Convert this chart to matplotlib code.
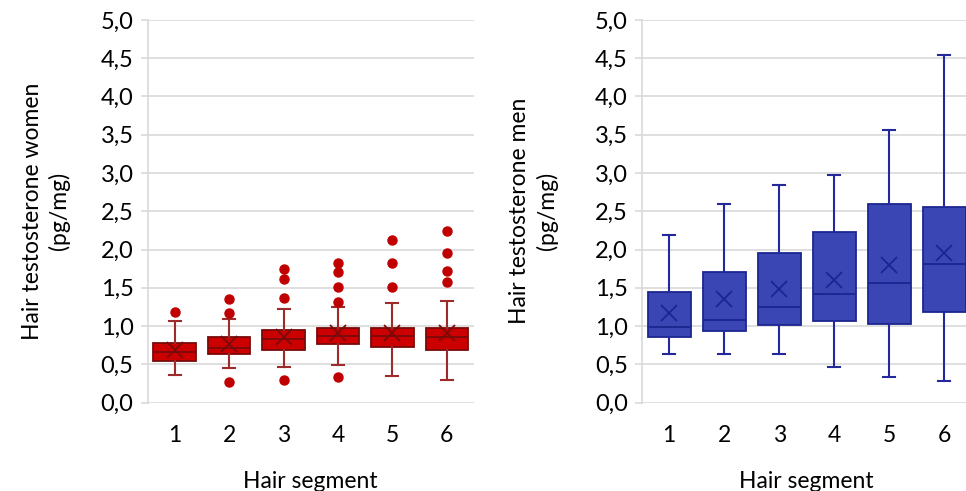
import matplotlib.pyplot as plt

plt.rcParams["font.family"] = ["Lato", "DejaVu Sans"]

segments = [1, 2, 3, 4, 5, 6]

# women (pg/mg)
w_whislo = [0.36, 0.45, 0.47, 0.49, 0.35, 0.30]
w_q1 = [0.54, 0.635, 0.69, 0.76, 0.72, 0.69]
w_med = [0.665, 0.71, 0.835, 0.875, 0.875, 0.85]
w_q3 = [0.78, 0.85, 0.95, 0.98, 0.98, 0.98]
w_whishi = [1.07, 1.09, 1.22, 1.25, 1.30, 1.33]
w_mean = [0.69, 0.765, 0.85, 0.905, 0.91, 0.91]
w_fliers = [
    [1.18],
    [1.35, 1.17, 0.27],
    [1.74, 1.61, 1.36, 0.30],
    [1.82, 1.71, 1.51, 1.32, 0.34],
    [2.12, 1.82, 1.51],
    [2.24, 1.95, 1.72, 1.57],
]

# men (pg/mg)
m_whislo = [0.63, 0.64, 0.64, 0.47, 0.34, 0.28]
m_q1 = [0.85, 0.93, 1.01, 1.06, 1.03, 1.18]
m_med = [0.99, 1.08, 1.25, 1.42, 1.56, 1.81]
m_q3 = [1.45, 1.70, 1.95, 2.23, 2.60, 2.56]
m_whishi = [2.19, 2.59, 2.84, 2.97, 3.56, 4.54]
m_mean = [1.17, 1.35, 1.48, 1.60, 1.80, 1.95]
m_fliers = [[], [], [], [], [], []]

yticks = [0.0, 0.5, 1.0, 1.5, 2.0, 2.5, 3.0, 3.5, 4.0, 4.5, 5.0]
ytick_labels = [f"{v:.1f}".replace(".", ",") for v in yticks]


def stats(lo, q1, med, q3, hi, mean, fl):
    return [
        dict(whislo=a, q1=b, med=c, q3=d, whishi=e, mean=f, fliers=g)
        for a, b, c, d, e, f, g in zip(lo, q1, med, q3, hi, mean, fl)
    ]


def draw(ax, st, fill, edge, whisk, flier, ylabel, label_x):
    ax.bxp(
        st,
        positions=segments,
        widths=0.78,
        capwidths=0.22,
        patch_artist=True,
        showmeans=True,
        boxprops=dict(facecolor=fill, edgecolor=edge, linewidth=1.3),
        medianprops=dict(color=edge, linewidth=1.3),
        whiskerprops=dict(color=whisk, linewidth=1.5),
        capprops=dict(color=whisk, linewidth=1.5),
        meanprops=dict(marker="x", markeredgecolor=edge, markersize=12, markeredgewidth=1.3),
        flierprops=dict(marker="o", markerfacecolor=flier, markeredgecolor=flier, markersize=6.5),
    )
    ax.set_xlim(0.5, 6.5)
    ax.set_ylim(0, 5.0)
    ax.set_yticks(yticks)
    ax.set_yticklabels(ytick_labels)
    ax.set_xticks(segments)
    ax.set_xticklabels([str(s) for s in segments])
    ax.tick_params(axis="y", length=5, width=1.2, color="#d9d9d9", labelsize=17, pad=5)
    ax.tick_params(axis="x", length=0, labelsize=16.5, pad=16)
    ax.yaxis.grid(True, color="#d9d9d9", linewidth=1.2)
    ax.set_axisbelow(True)
    for side in ["top", "right", "bottom"]:
        ax.spines[side].set_visible(False)
    ax.spines["left"].set_color("#d9d9d9")
    ax.spines["left"].set_linewidth(1.2)
    ax.set_ylabel(ylabel, fontsize=16.5, linespacing=1.3)
    ax.yaxis.set_label_coords(label_x, 0.5)
    ax.set_xlabel("Hair segment", fontsize=16.5, labelpad=18)


fig = plt.figure(figsize=(9.66, 4.91), dpi=100)
ax1 = fig.add_axes([0.1527, 0.1802, 0.338, 0.7791])
ax2 = fig.add_axes([0.6643, 0.1802, 0.3416, 0.7791])

draw(ax1, stats(w_whislo, w_q1, w_med, w_q3, w_whishi, w_mean, w_fliers),
     "#cc0000", "#7a0a0a", "#9e2b2b", "#c00000",
     "Hair testosterone women\n(pg/mg)", -0.237)
draw(ax2, stats(m_whislo, m_q1, m_med, m_q3, m_whishi, m_mean, m_fliers),
     "#3a46b4", "#1c2590", "#23299a", "#23299a",
     "Hair testosterone men\n(pg/mg)", -0.254)

fig.savefig("out.png", dpi=100)
